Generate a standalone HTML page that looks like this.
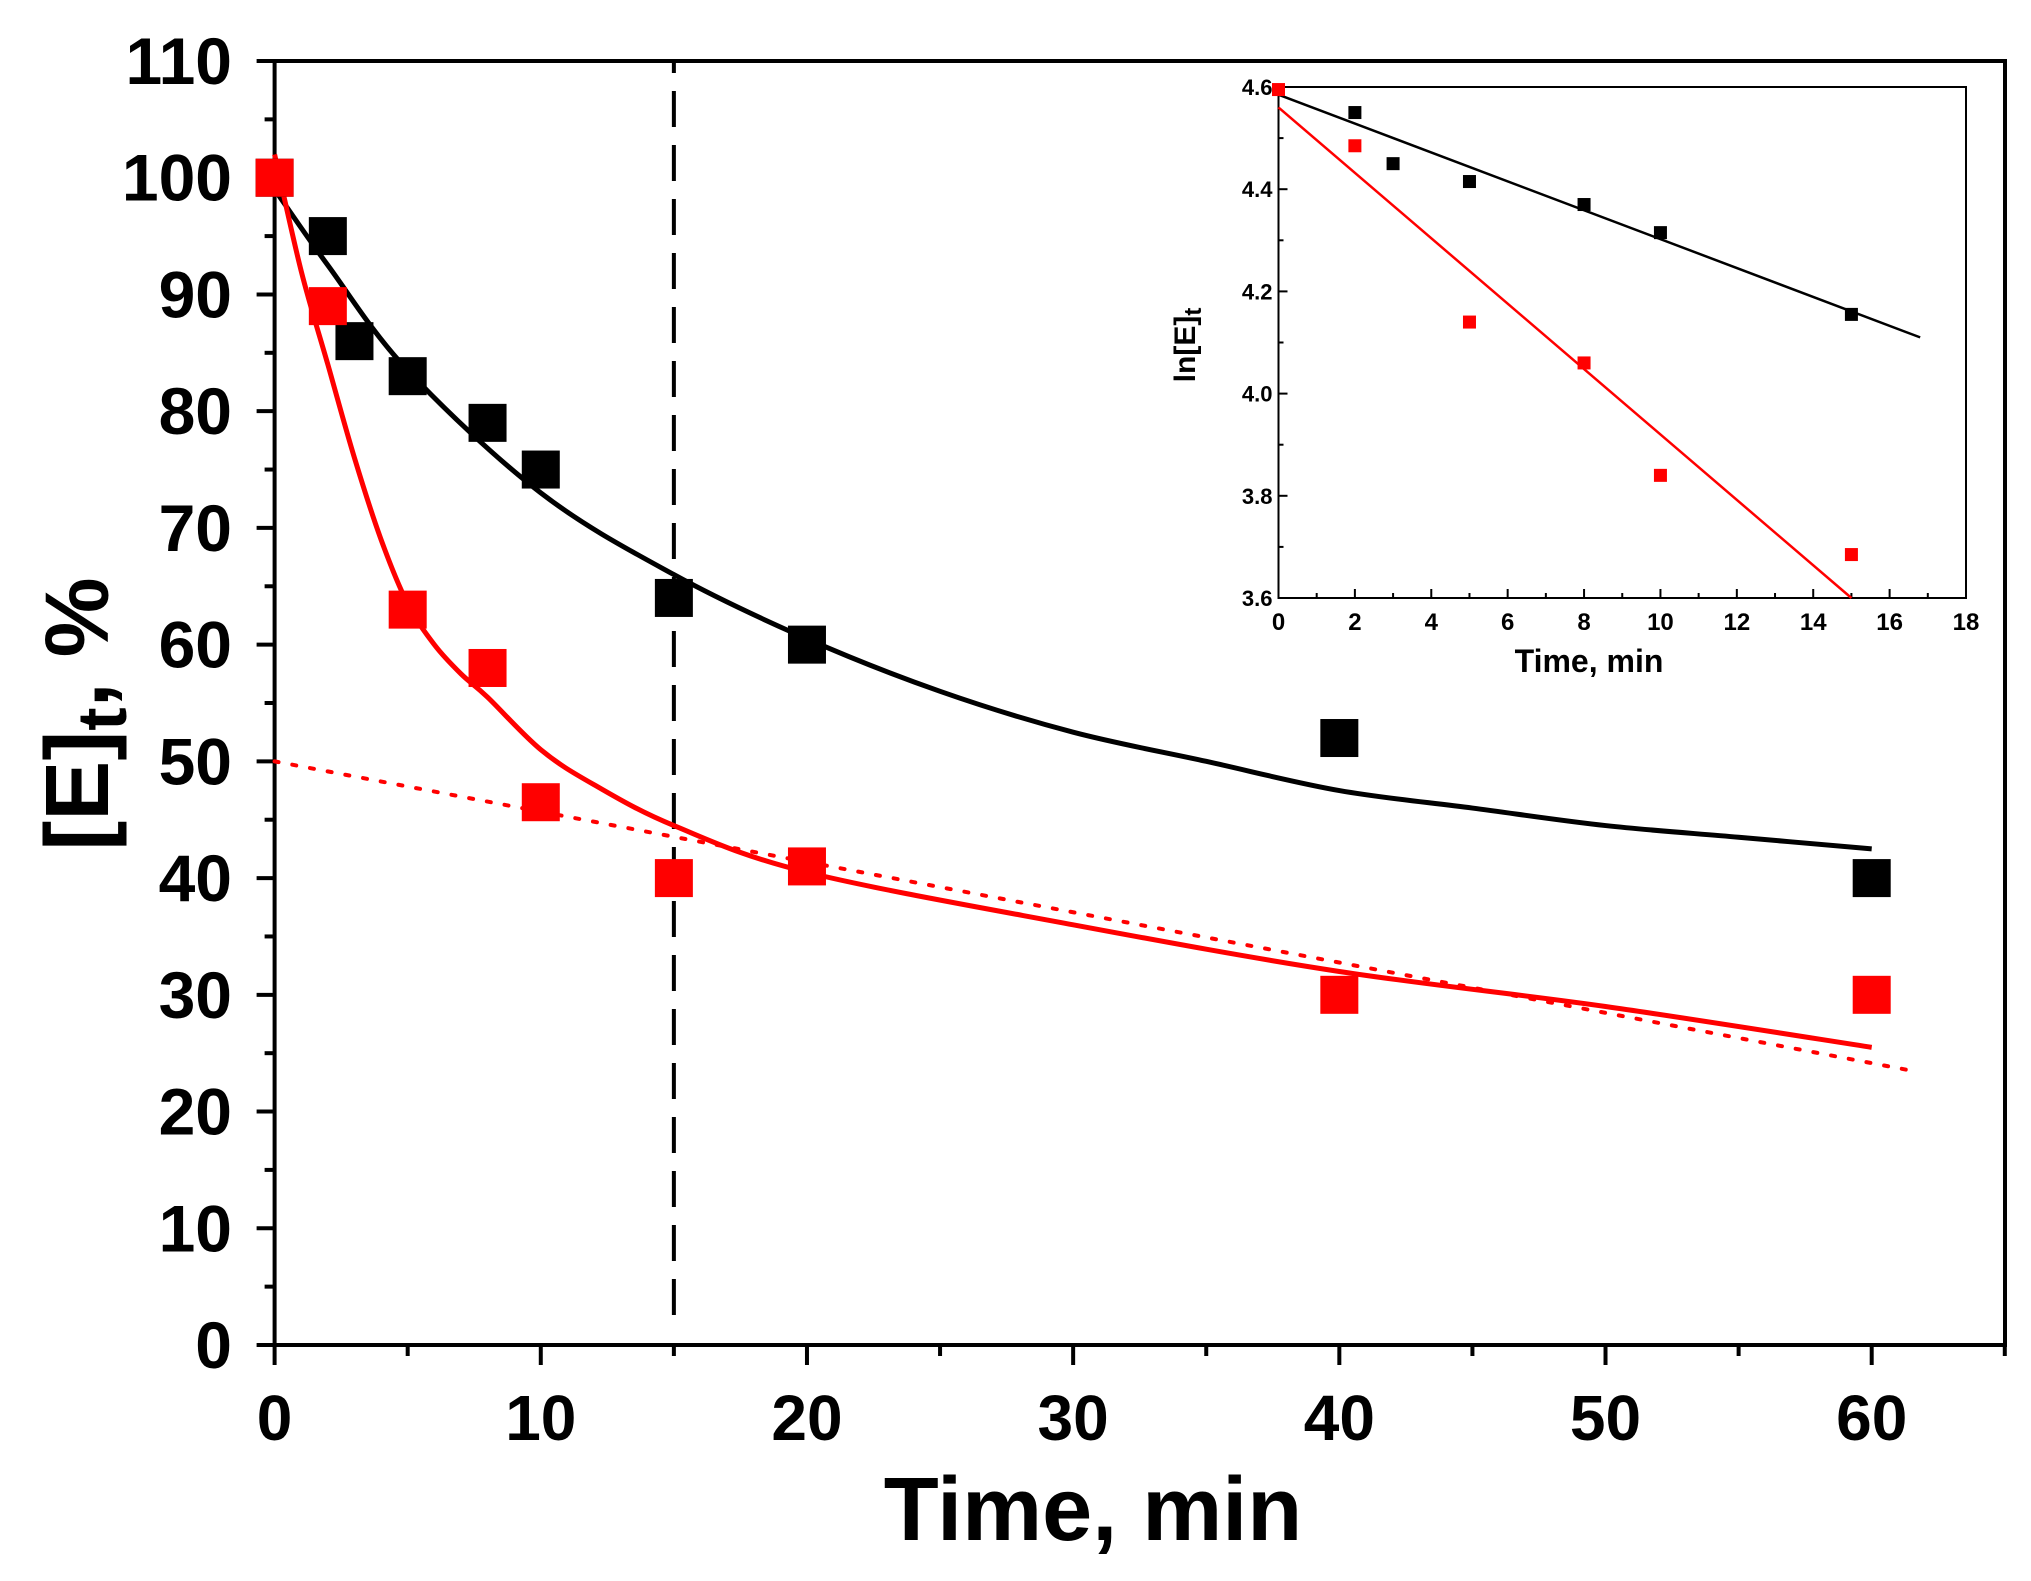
<!DOCTYPE html>
<html><head><meta charset="utf-8"><style>
html,body{margin:0;padding:0;background:#fff;}
svg{display:block;font-family:"Liberation Sans",Arial,sans-serif;font-weight:bold;}
</style></head><body>
<svg id="chart" width="2031" height="1581" viewBox="0 0 2031 1581" xmlns="http://www.w3.org/2000/svg"></svg>
<script>
// Main chart data
const blackT = [0, 2, 3, 5, 8, 10, 15, 20, 40, 60];
const blackE = [100, 95, 86, 83, 79, 75, 64, 60, 52, 40];
const redT = [0, 2, 5, 8, 10, 15, 20, 40, 60];
const redE = [100, 89, 63, 58, 46.5, 40, 41, 30, 30];
const blackFitT = [0, 2, 5, 10, 15, 20, 25, 30, 35, 40, 45, 50, 55, 60];
const blackFitE = [99, 92.5, 83.5, 73, 66, 60.5, 56, 52.5, 50, 47.5, 46, 44.5, 43.5, 42.5];
const redFitT = [0, 1, 2, 3, 4, 5, 6, 7, 8, 10, 12, 15, 20, 30, 40, 50, 60];
const redFitE = [102, 92, 84, 76, 69, 63.5, 60, 57.5, 55.5, 51, 48, 44.5, 40.5, 36, 32, 29, 25.5];
const dotT = [0, 61.5];
const dotE = [50, 23.5];
const xTicks = [0, 10, 20, 30, 40, 50, 60];
const yTicks = [0, 10, 20, 30, 40, 50, 60, 70, 80, 90, 100, 110];
// Inset data
const inBlackT = [2, 3, 5, 8, 10, 15];
const inBlackY = [4.55, 4.45, 4.415, 4.37, 4.315, 4.155];
const inRedT = [0, 2, 5, 8, 10, 15];
const inRedY = [4.595, 4.485, 4.14, 4.06, 3.84, 3.685];
const inBlackFitT = [0, 16.8];
const inBlackFitY = [4.585, 4.11];
const inRedFitT = [0, 15];
const inRedFitY = [4.56, 3.6];
const inXTicks = [0, 2, 4, 6, 8, 10, 12, 14, 16, 18];
const inYTicks = ['3.6', '3.8', '4.0', '4.2', '4.4', '4.6'];

const NS = 'http://www.w3.org/2000/svg';
const svg = document.getElementById('chart');
function mk(tag, attrs, parent) {
  const e = document.createElementNS(NS, tag);
  for (const k in attrs) e.setAttribute(k, attrs[k]);
  (parent || svg).appendChild(e);
  return e;
}
const L = 274.6, R = 2005, T = 61, B = 1345;
const X = t => L + t * (1871.7 - L) / 60;
const Y = v => B - v * (B - T) / 110;

let g = mk('g', {});


mk('rect', {x: L, y: T, width: R - L, height: B - T, fill: 'none', stroke: '#000', 'stroke-width': 4}, g);

for (let t = 0; t <= 65; t += 5) {
  const major = t % 10 === 0;
  const tk = mk('line', {x1: X(t), x2: X(t), y1: B, y2: B + (major ? 20 : 11), stroke: '#000', 'stroke-width': 4});
  
  
}
xTicks.forEach(t => {
  const e = mk('text', {x: X(t), y: 1440, 'text-anchor': 'middle', 'font-size': 64, fill: '#000'});
  
  
  e.textContent = t;
});
for (let v = 0; v <= 110; v += 5) {
  const major = v % 10 === 0;
  const tk = mk('line', {x1: L, x2: L - (major ? 18 : 10), y1: Y(v), y2: Y(v), stroke: '#000', 'stroke-width': 4});
  
  
}
yTicks.forEach(v => {
  const e = mk('text', {x: 232, y: Y(v) + 23, 'text-anchor': 'end', 'font-size': 66, fill: '#000'});
  
  
  e.textContent = v;
});
let xt = mk('text', {x: 1093, y: 1540, 'text-anchor': 'middle', 'font-size': 90, fill: '#000'});


xt.textContent = 'Time, min';
let yt = mk('text', {x: 0, y: 0, 'text-anchor': 'middle', 'font-size': 90, fill: '#000', transform: 'translate(108,714) rotate(-90)'});


yt.innerHTML = '[E]<tspan font-size="70" dy="18">t</tspan><tspan dy="-18">, %</tspan>';

let dl = mk('line', {x1: X(15), x2: X(15), y1: Y(0) - 30, y2: T, stroke: '#000', 'stroke-width': 4, 'stroke-dasharray': '36 18'});



function poly(ts, vs, xf, yf, attrs, name) {
  const p = mk('polyline', Object.assign({points: ts.map((t, i) => xf(t) + ',' + yf(vs[i])).join(' '), fill: 'none'}, attrs));
  
  
}
function smooth(ts, vs, xf, yf, attrs, name) {
  const P = ts.map((t, i) => [xf(t), yf(vs[i])]);
  let d = 'M' + P[0][0] + ',' + P[0][1];
  for (let i = 0; i < P.length - 1; i++) {
    const p0 = P[Math.max(0, i - 1)], p1 = P[i], p2 = P[i + 1], p3 = P[Math.min(P.length - 1, i + 2)];
    const c1 = [p1[0] + (p2[0] - p0[0]) / 6, p1[1] + (p2[1] - p0[1]) / 6];
    const c2 = [p2[0] - (p3[0] - p1[0]) / 6, p2[1] - (p3[1] - p1[1]) / 6];
    d += ' C' + c1[0] + ',' + c1[1] + ' ' + c2[0] + ',' + c2[1] + ' ' + p2[0] + ',' + p2[1];
  }
  const p = mk('path', Object.assign({d: d, fill: 'none'}, attrs));
  
  
}
poly(dotT, dotE, X, Y, {stroke: '#f00', 'stroke-width': 4, 'stroke-dasharray': '4 14', 'stroke-linecap': 'round'}, 'red-linear-dotted');
smooth(blackFitT, blackFitE, X, Y, {stroke: '#000', 'stroke-width': 5}, 'black-fit-curve');
smooth(redFitT, redFitE, X, Y, {stroke: '#f00', 'stroke-width': 5}, 'red-fit-curve');

function pts(ts, vs, xf, yf, s, col, name) {
  ts.forEach((t, i) => {
    const r = mk('rect', {x: xf(t) - s / 2, y: yf(vs[i]) - s / 2, width: s, height: s, fill: col});
    
    
  });
}
pts(blackT, blackE, X, Y, 38, '#000', 'black-point');
pts(redT, redE, X, Y, 38, '#f00', 'red-point');

// inset
const iL = 1278.5, iR = 1966, iT = 87, iB = 598;
const IX = t => iL + t * (iR - iL) / 18;
const IY = v => iB - (v - 3.6) * (iB - iT) / 1.0;
let ig = mk('rect', {x: iL, y: iT, width: iR - iL, height: iB - iT, fill: '#fff', stroke: '#000', 'stroke-width': 2});


for (let t = 0; t <= 18; t += 1) {
  const tk = mk('line', {x1: IX(t), x2: IX(t), y1: iB, y2: iB - (t % 2 === 0 ? 9 : 5), stroke: '#000', 'stroke-width': 2});
  
  
}
inXTicks.forEach(t => {
  const e = mk('text', {x: IX(t), y: 630, 'text-anchor': 'middle', 'font-size': 24, fill: '#000'});
  
  
  e.textContent = t;
});
for (let k = 0; k <= 10; k++) {
  const v = 3.6 + k * 0.1;
  const tk = mk('line', {x1: iL, x2: iL + (k % 2 === 0 ? 9 : 5), y1: IY(v), y2: IY(v), stroke: '#000', 'stroke-width': 2});
  
  
}
inYTicks.forEach(s => {
  const e = mk('text', {x: iL - 6, y: IY(parseFloat(s)) + 8, 'text-anchor': 'end', 'font-size': 22, fill: '#000'});
  
  
  e.textContent = s;
});
let ixt = mk('text', {x: 1589, y: 672, 'text-anchor': 'middle', 'font-size': 32, fill: '#000'});


ixt.textContent = 'Time, min';
let iyt = mk('text', {x: 0, y: 0, 'text-anchor': 'middle', 'font-size': 30, fill: '#000', transform: 'translate(1195,345) rotate(-90)'});


iyt.innerHTML = 'ln[E]<tspan font-size="24" dy="6">t</tspan>';

poly(inBlackFitT, inBlackFitY, IX, IY, {stroke: '#000', 'stroke-width': 2.5}, 'inset-black-fit');
poly(inRedFitT, inRedFitY, IX, IY, {stroke: '#f00', 'stroke-width': 2.5}, 'inset-red-fit');
pts(inBlackT, inBlackY, IX, IY, 13, '#000', 'inset-black-point');
pts(inRedT, inRedY, IX, IY, 13, '#f00', 'inset-red-point');
</script>
</body></html>
